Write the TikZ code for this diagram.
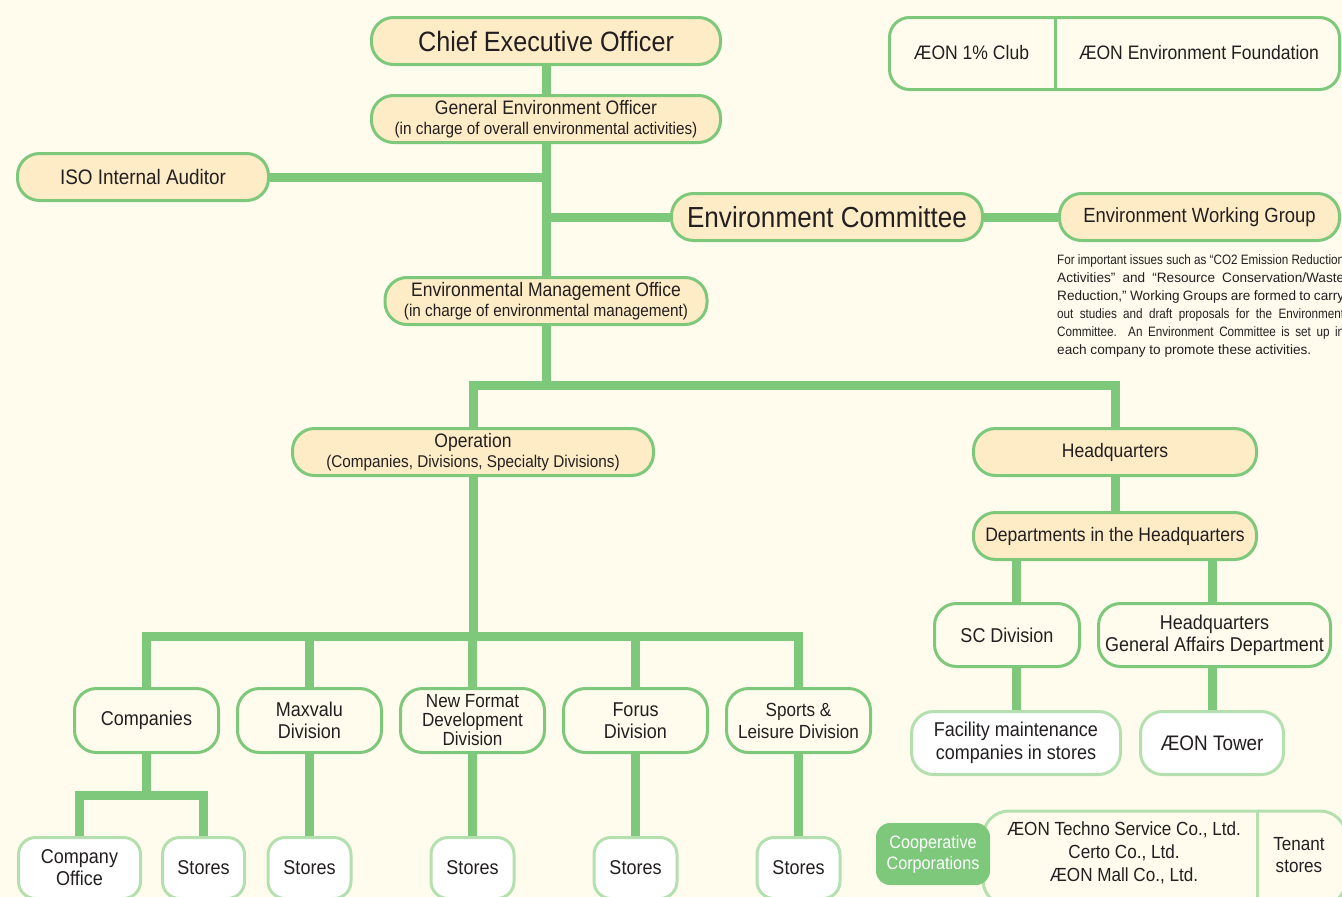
\documentclass[tikz,border=0pt]{standalone}
\usepackage{fontspec}
\setmainfont{Liberation Sans}[FakeStretch=0.9]
\newfontfamily\notefont{Liberation Sans}
\newfontfamily\narrowfont{Liberation Sans}[FakeStretch=0.86]
\usetikzlibrary{positioning}

\definecolor{pagebg}{RGB}{255,252,238}
\definecolor{linkgreen}{RGB}{125,200,122}
\definecolor{palegreen}{RGB}{180,224,176}
\definecolor{headfill}{RGB}{253,236,198}
\definecolor{ink}{RGB}{35,31,32}
\newcommand{\fsz}[2]{\fontsize{#1}{#2}\selectfont}
\newcommand{\noteline}[1]{\makebox[287pt][s]{#1}}

\begin{document}
\begin{tikzpicture}[
  x=1pt,y=-1pt,
  text=ink,
  box/.style={draw=linkgreen,line width=3pt,rounded corners=22pt,inner sep=0pt,align=center},
  head/.style={box,fill=headfill,minimum height=47pt,font=\fsz{19.5}{20}},
  unit/.style={box,fill=pagebg,minimum width=144pt,minimum height=64pt,font=\fsz{20}{22}},
  leaf/.style={box,draw=palegreen,fill=white,minimum height=63pt,font=\fsz{20}{23}},
  shop/.style={leaf,rounded corners=17pt,minimum width=83pt,minimum height=61pt,font=\fsz{20}{22}},
  note/.style={inner sep=0pt,align=left,font=\notefont\fsz{13.6}{18}},
  plain/.style={align=center,font=\fsz{19}{23}},
  link/.style={draw=linkgreen,line width=9pt},
  rule/.style={line width=3pt}
]
\useasboundingbox (0,0) rectangle (1342,897);
\fill[pagebg] (0,0) rectangle (1342,897);

% top of the chart
\node[head,minimum width=349pt,font=\fsz{28}{30}] (ceo) at (546,41) {Chief Executive Officer};
\node[head,minimum width=349pt,below=28pt of ceo] (geo)
  {General Environment Officer\\{\fsz{17}{20}(in charge of overall environmental activities)}};
\node[head,minimum width=251pt,font=\fsz{21}{23}] (iso) at (143,177) {ISO Internal Auditor};
\node[head,minimum width=311pt,font=\fsz{29}{31}] (ec) at (827,217) {Environment Committee};
\node[head,minimum width=280pt,right=74pt of ec,font=\fsz{20.5}{23}] (ewg) {Environment Working Group};
\node[note,anchor=north west] (ewgnote) at (1057,254)
  {\noteline{\narrowfont For important issues such as “CO2 Emission Reduction}\\
   \noteline{Activities” and “Resource Conservation/Waste}\\
   \noteline{Reduction,” Working Groups are formed to carry}\\
   \noteline{\narrowfont out studies and draft proposals for the Environment}\\
   \noteline{\narrowfont Committee. An Environment Committee is set up in}\\
   each company to promote these activities.};
\node[head,minimum width=322pt] (emo) at (546,301)
  {Environmental Management Office\\{\fsz{17}{20}(in charge of environmental management)}};

% club and foundation
\node[box,fill=pagebg,rounded corners=20pt,minimum width=450pt,minimum height=72pt] (club) at (1114.5,53.5) {};
\node[plain,font=\fsz{19.5}{22}] (onepct) at (971.5,53) {ÆON 1\% Club};
\node[plain,font=\fsz{19.5}{22}] (found) at (1199,53) {ÆON Environment Foundation};
\coordinate (clubdiv) at (1055,53);
\draw[linkgreen,rule] (club.north -| clubdiv) -- (club.south -| clubdiv);

% operation and headquarters
\node[head,minimum width=361pt] (op) at (473,452)
  {Operation\\{\fsz{17}{20}(Companies, Divisions, Specialty Divisions)}};
\node[head,minimum width=283pt] (hq) at (1115,452) {Headquarters};
\node[head,minimum width=283pt,below=34pt of hq] (depts) {Departments in the Headquarters};
\node[unit,minimum width=145pt,minimum height=63pt] (sc) at (1007,635) {SC Division};
\node[unit,minimum width=232pt,minimum height=63pt] (hqga) at (1214.5,635)
  {Headquarters\\General Affairs Department};
\node[leaf,minimum width=209pt] (fac) at (1016,743) {Facility maintenance\\companies in stores};
\node[leaf,minimum width=143pt,font=\fsz{21}{23}] (tower) at (1212,743) {ÆON Tower};

% divisions
\node[unit] (companies) at (146.5,720.5) {Companies};
\node[unit,right=16pt of companies] (maxvalu) {Maxvalu\\Division};
\node[unit,right=16pt of maxvalu,font=\fsz{19}{19}] (newf) {New Format\\Development\\Division};
\node[unit,right=16pt of newf] (forus) {Forus\\Division};
\node[unit,right=16pt of forus,font=\fsz{19}{22}] (sports) {Sports \&\\Leisure Division};

% stores row
\node[shop,minimum width=122pt] (coffice) at (79.5,868) {Company\\Office};
\node[shop,minimum width=82pt] (cstores) at (203.5,868) {Stores};
\node[shop] (st1) at (maxvalu.center |- coffice.center) {Stores};
\node[shop] (st2) at (newf.center |- coffice.center) {Stores};
\node[shop] (st3) at (forus.center |- coffice.center) {Stores};
\node[shop] (st4) at (sports.center |- coffice.center) {Stores};

% cooperative corporations
\node[box,draw=palegreen,fill=pagebg,rounded corners=26pt,minimum width=363pt,minimum height=95pt,anchor=north west] (coop) at (981.5,809.5) {};
\coordinate (coopdiv) at (1257,850);
\draw[palegreen,rule] (coop.north -| coopdiv) -- (coop.south -| coopdiv);
\node[plain] (firms) at (1124,853) {ÆON Techno Service Co., Ltd.\\Certo Co., Ltd.\\ÆON Mall Co., Ltd.};
\node[plain,font=\fsz{19}{22}] (tenant) at (1299,855) {Tenant\\stores};
\node[box,draw=none,fill=linkgreen,text=white,rounded corners=14pt,minimum width=114pt,minimum height=62pt,font=\fsz{18}{21}] (cooplabel) at (933,854) {Cooperative\\Corporations};

% connectors
\draw[link] (ceo.south) -- (geo.north);
\draw[link] (geo.south) -- (emo.north);
\draw[link] (iso.east) -- (iso.east -| geo.south);
\draw[link] (ec.west) -- (ec.west -| geo.south);
\draw[link] (ec.east) -- (ewg.west);
\coordinate (bus) at (546,385);
\draw[link] (emo.south) -- (bus);
\draw[link] (op.north) |- (bus) -| (hq.north);
\draw[link] (hq.south) -- (depts.north);
\draw[link] (depts.south -| fac.north) -- (sc.north -| fac.north);
\draw[link] (sc.south -| fac.north) -- (fac.north);
\draw[link] (depts.south -| tower.north) -- (hqga.north -| tower.north);
\draw[link] (hqga.south -| tower.north) -- (tower.north);
\coordinate (divbus) at (473,636);
\draw[link] (op.south) -- (op.south |- divbus);
\draw[link] (companies.north) |- (divbus) -| (sports.north);
\foreach \d in {maxvalu,newf,forus}
  \draw[link] (\d.north) -- (\d.north |- divbus);
\coordinate (cobus) at (146.5,795);
\draw[link] (companies.south) -- (cobus);
\draw[link] (coffice.north) |- (cobus) -| (cstores.north);
\foreach \d/\s in {maxvalu/st1,newf/st2,forus/st3,sports/st4}
  \draw[link] (\d.south) -- (\s.north);

\end{tikzpicture}
\end{document}
